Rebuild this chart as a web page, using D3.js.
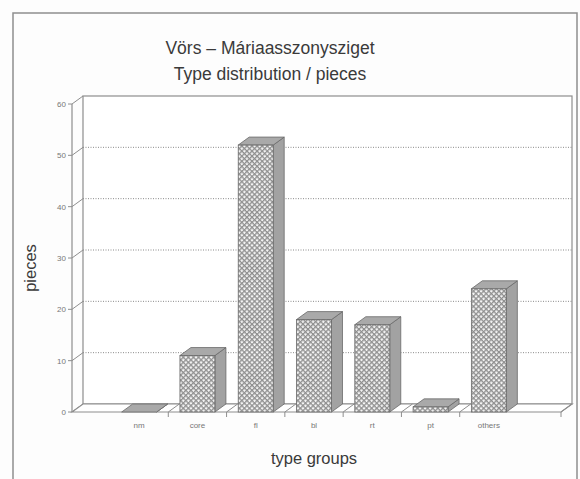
<!DOCTYPE html>
<html>
<head>
<meta charset="utf-8">
<script src="https://cdn.jsdelivr.net/npm/d3@7"></script>
<style>
  html, body { margin: 0; padding: 0; background: #fdfdfd; }
  svg { display: block; font-family: "Liberation Sans", Arial, sans-serif; }
</style>
</head>
<body>
<svg id="chart" width="580" height="479"></svg>
<script>
// Type distribution data
const categories = ["nm", "core", "fl", "bl", "rt", "pt", "others"];
const pieces = [0, 11, 52, 18, 17, 1, 24];
const yTicks = [0, 10, 20, 30, 40, 50, 60];
const titleLines = ["Vörs – Máriaasszonysziget", "Type distribution / pieces"];

const svg = d3.select("#chart");

// Plot geometry: front plane + depth offset for the 3D look
const front = { left: 72, right: 561, top: 104, bottom: 412 };
const depth = { dx: 11, dy: -8 };

const y = d3.scaleLinear().domain([0, 60]).range([front.bottom, front.top]);
const x = d3.scaleBand().domain(categories).range([110, 518])
  .paddingInner(0.4).paddingOuter(0.2);

const lineCol = "#8e8e8e";
const textCol = "#3a3a3a";

// crosshatch fill for the bar fronts
const defs = svg.append("defs");
const pat = defs.append("pattern")
  .attr("id", "hatch").attr("patternUnits", "userSpaceOnUse")
  .attr("width", 3.6).attr("height", 3.6)
  .attr("patternTransform", "rotate(45)");
pat.append("rect").attr("width", 3.6).attr("height", 3.6).attr("fill", "#f4f4f4");
pat.append("rect").attr("width", 3.6).attr("height", 1.3).attr("fill", "#8f8f8f");
pat.append("rect").attr("width", 1.3).attr("height", 3.6).attr("fill", "#8f8f8f");

// outer frame
svg.append("rect").attr("x", 13).attr("y", 13).attr("width", 564).attr("height", 480)
  .attr("fill", "none").attr("stroke", lineCol).attr("stroke-width", 1.5);

// title
svg.append("g").selectAll("text").data(titleLines).join("text")
  .attr("x", 270).attr("y", (d, i) => 54 + i * 26)
  .attr("text-anchor", "middle").attr("font-size", 17.5).attr("fill", textCol)
  .text(d => d);

const g = svg.append("g");
const bx = front.left + depth.dx, by = depth.dy;

// back wall
g.append("rect")
  .attr("x", bx).attr("y", front.top + by)
  .attr("width", front.right - front.left).attr("height", front.bottom - front.top)
  .attr("fill", "#ffffff").attr("stroke", lineCol).attr("stroke-width", 1.2);

// dotted gridlines on back wall
g.append("g").selectAll("line").data(yTicks.filter(t => t > 0 && t < 60)).join("line")
  .attr("x1", bx).attr("x2", front.right + depth.dx)
  .attr("y1", d => y(d) + by).attr("y2", d => y(d) + by)
  .attr("stroke", "#8a8a8a").attr("stroke-width", 1).attr("stroke-dasharray", "1,1.5");

// left side wall: front axis, diagonals to back wall
g.append("line").attr("x1", front.left).attr("x2", front.left)
  .attr("y1", y(60)).attr("y2", y(0)).attr("stroke", lineCol).attr("stroke-width", 1.2);
g.append("g").selectAll("line").data(yTicks).join("line")
  .attr("x1", front.left).attr("y1", d => y(d))
  .attr("x2", bx).attr("y2", d => y(d) + by)
  .attr("stroke", lineCol).attr("stroke-width", 1);
// y ticks and labels
g.append("g").selectAll("line").data(yTicks).join("line")
  .attr("x1", front.left - 4).attr("x2", front.left)
  .attr("y1", d => y(d)).attr("y2", d => y(d))
  .attr("stroke", lineCol).attr("stroke-width", 1);
g.append("g").selectAll("text").data(yTicks).join("text")
  .attr("x", front.left - 6).attr("y", d => y(d) + 3)
  .attr("text-anchor", "end").attr("font-size", 8).attr("fill", "#777")
  .text(d => d);

// floor
g.append("path")
  .attr("d", `M${front.left},${y(0)} L${front.right},${y(0)} L${front.right + depth.dx},${y(0) + by} L${bx},${y(0) + by} Z`)
  .attr("fill", "#ffffff").attr("stroke", lineCol).attr("stroke-width", 1.2);

// category boundary ticks on the floor
const bounds = categories.slice(0, -1).map(c => x(c) + x.bandwidth() / 2 + x.step() / 2);
bounds.push(front.right);
g.append("g").selectAll("line").data(bounds).join("line")
  .attr("x1", d => d).attr("x2", d => d)
  .attr("y1", y(0)).attr("y2", y(0) + 5)
  .attr("stroke", lineCol).attr("stroke-width", 1);
g.append("g").selectAll("line").data(bounds).join("line")
  .attr("x1", d => d).attr("y1", y(0))
  .attr("x2", d => d + depth.dx).attr("y2", y(0) + by)
  .attr("stroke", lineCol).attr("stroke-width", 1);

// 3D bars
const bars = g.append("g").selectAll("g").data(categories.map((c, i) => ({ c, v: pieces[i] }))).join("g");
const edge = "#6a6a6a";
bars.append("path") // right side
  .attr("d", d => {
    const x1 = x(d.c) + x.bandwidth(), yt = y(d.v), yb = y(0);
    return `M${x1},${yt} L${x1 + depth.dx},${yt + by} L${x1 + depth.dx},${yb + by} L${x1},${yb} Z`;
  })
  .attr("fill", "#a2a2a2").attr("stroke", edge).attr("stroke-width", 0.8);
bars.append("path") // top
  .attr("d", d => {
    const x0 = x(d.c), x1 = x0 + x.bandwidth(), yt = y(d.v);
    return `M${x0},${yt} L${x0 + depth.dx},${yt + by} L${x1 + depth.dx},${yt + by} L${x1},${yt} Z`;
  })
  .attr("fill", "#a9a9a9").attr("stroke", edge).attr("stroke-width", 0.8);
bars.filter(d => d.v > 0).append("rect") // front
  .attr("x", d => x(d.c)).attr("y", d => y(d.v))
  .attr("width", x.bandwidth()).attr("height", d => y(0) - y(d.v))
  .attr("fill", "url(#hatch)").attr("stroke", edge).attr("stroke-width", 0.8);

// category labels
g.append("g").selectAll("text").data(categories).join("text")
  .attr("x", d => x(d) + x.bandwidth() / 2).attr("y", 428)
  .attr("text-anchor", "middle").attr("font-size", 8).attr("fill", "#777")
  .text(d => d);

// axis titles
svg.append("text").attr("x", 314).attr("y", 464)
  .attr("text-anchor", "middle").attr("font-size", 16.5).attr("fill", textCol)
  .text("type groups");
svg.append("text")
  .attr("transform", "translate(36,268) rotate(-90)")
  .attr("text-anchor", "middle").attr("font-size", 16.5).attr("fill", textCol)
  .text("pieces");
</script>
</body>
</html>
